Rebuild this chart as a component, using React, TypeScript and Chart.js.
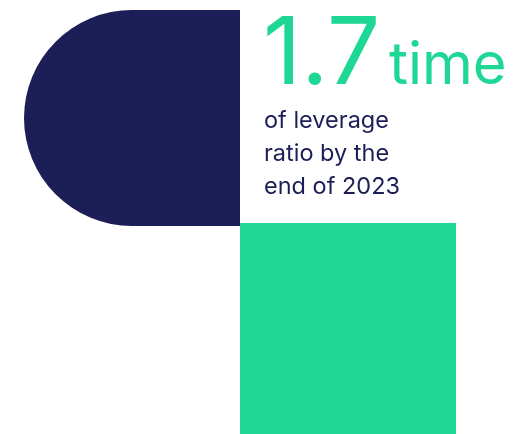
import React, { useEffect, useRef } from 'react';
import { Chart, registerables } from 'chart.js';

Chart.register(...registerables);

// ---- data ----
const headlineValue = ['1.7'];
const headlineUnit = ['time'];
const captionLines = ['of leverage', 'ratio by the', 'end of 2023'];
const blockNames = ['Leverage ratio', 'Highlight'];
const blockFrom = [24, 240];
const blockTo = [240, 456];
const blockRow = [118, 331];

// ---- style ----
const NAVY = '#1c1e57';
const GREEN = '#1ed794';
const W = 521;
const H = 434;

const textPlugin = {
  id: 'infographicText',
  afterDatasetsDraw(chart: any) {
    const { ctx, scales } = chart;
    const px = (v: number) => scales.x.getPixelForValue(v);
    const py = (v: number) => scales.y.getPixelForValue(v);
    ctx.save();
    ctx.textBaseline = 'alphabetic';
    ctx.textAlign = 'left';
    ctx.fillStyle = GREEN;
    ctx.font = '400 94px Inter';
    ctx.fillText(headlineValue[0], px(263), py(84));
    ctx.font = '400 58px Inter';
    ctx.fillText(headlineUnit[0], px(389), py(84));
    ctx.fillStyle = NAVY;
    ctx.font = '400 23.5px Inter';
    const baselines = [128, 161, 194];
    captionLines.forEach((line, i) => {
      ctx.fillText(line, px(264), py(baselines[i]));
    });
    ctx.restore();
  },
};

export default function App() {
  const ref = useRef<HTMLCanvasElement>(null);
  useEffect(() => {
    if (!ref.current) return;
    const chart = new Chart(ref.current, {
      type: 'bar',
      data: {
        labels: blockNames,
        datasets: [
          {
            label: 'blocks',
            data: blockNames.map((_, i) => ({ x: [blockFrom[i], blockTo[i]], y: blockRow[i] })) as any,
            backgroundColor: [NAVY, GREEN],
            borderWidth: 0,
            borderSkipped: false,
            inflateAmount: 0,
            barThickness: 216,
            borderRadius: (c: any) =>
              c.dataIndex === 0
                ? { topLeft: 108, bottomLeft: 108, topRight: 0, bottomRight: 0 }
                : 0,
          } as any,
        ],
      },
      options: {
        indexAxis: 'y',
        responsive: false,
        animation: false,
        layout: { padding: 0 },
        scales: {
          x: { type: 'linear', min: 0, max: W, display: false, offset: false },
          y: { type: 'linear', min: 0, max: H, reverse: true, display: false, offset: false, grid: { offset: false } },
        },
        plugins: {
          legend: { display: false },
          tooltip: { enabled: false },
          title: { display: false },
        },
      },
      plugins: [textPlugin],
    });
    return () => chart.destroy();
  }, []);
  return (
    <div style={{ position: 'absolute', left: 0, top: 0, width: W, height: H, background: '#fff' }}>
      <canvas ref={ref} width={W} height={H} style={{ display: 'block' }} />
    </div>
  );
}
